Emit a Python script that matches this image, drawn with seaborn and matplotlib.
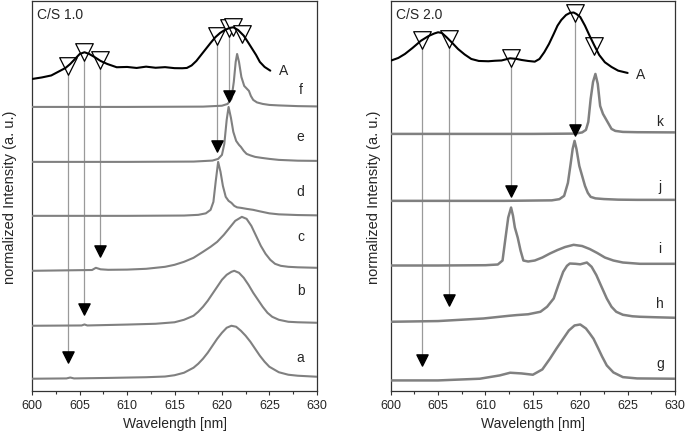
import numpy as np
import pandas as pd
import matplotlib
matplotlib.use("Agg")
import matplotlib.pyplot as plt
import seaborn as sns
from matplotlib.ticker import MultipleLocator

# ---------------- C/S 1.0 (left panel) ----------------
# intensities are in a.u. above each trace's own baseline
wl_A1 = [600.0, 601.0, 602.0, 602.9, 603.5, 604.0, 604.5, 605.0, 605.5, 606.0, 606.6, 607.2, 607.9, 608.9,
         610.0, 611.0, 612.0, 613.0, 614.0, 615.0, 615.8, 616.3, 616.8, 617.3, 617.8, 618.3, 618.8, 619.3,
         619.8, 620.3, 620.8, 621.2, 621.7, 622.3, 622.8, 623.2, 623.6, 624.0, 624.5, 625.1]
int_A1 = [0, 1.5, 3.5, 8, 11, 15, 20, 25, 26.7, 25, 21.7, 18, 15, 11.7,
          12, 11, 12.3, 11.2, 11.8, 10.8, 10.7, 11, 13.5, 18, 24, 30, 36, 41.7,
          46, 49, 51, 51.7, 49, 43.3, 36, 30, 24, 17, 12, 8.3]

wl_a = [600, 603.6, 604.0, 604.4, 608, 612, 614, 615, 616, 617, 617.5, 618, 618.5, 619, 619.5, 620, 620.5,
        621, 621.5, 622, 622.5, 623, 623.5, 624, 624.5, 625, 626, 627, 628, 630]
int_a = [0, 0.3, 1.2, 0.3, 0.8, 1.5, 2.2, 3.5, 6, 11, 15, 20, 26, 33, 40, 46, 51,
         53, 52, 48, 43, 37, 30, 23, 17, 12, 6.5, 4, 3, 2]

wl_b = [600, 605.2, 605.5, 605.8, 610, 613, 615, 616, 617, 617.5, 618, 618.5, 619, 619.5, 620, 620.5, 621,
        621.3, 621.8, 622.3, 622.8, 623.3, 623.8, 624.3, 624.8, 625.3, 626, 627, 628, 630]
int_b = [0, 0.3, 1.3, 0.3, 1.2, 2, 3.5, 6, 10, 14, 19, 25, 32, 39, 46, 51, 54,
         55, 53, 48, 41, 33, 26, 19, 13, 9, 6, 4, 3.5, 3]

wl_c = [600, 606.3, 606.7, 607.2, 608, 610, 612, 614, 615, 616, 617, 618, 618.8, 619.5, 620.2, 620.8,
        621.4, 622.1, 622.6, 623.1, 623.6, 624.1, 624.6, 625.1, 625.6, 626.2, 627, 628, 630]
int_c = [0, 0.8, 3, 1.5, 1, 1.2, 2, 4, 6, 9, 13, 19, 24, 29, 36, 43,
         50, 54, 52, 45, 35, 25, 17, 11, 7, 5, 4, 3.5, 3]

wl_d = [600, 610, 616, 617.5, 618.3, 618.8, 619.1, 619.35, 619.6, 619.85, 620.1, 620.4, 620.7, 621.0,
        621.3, 621.6, 622.0, 622.6, 623.3, 624, 625, 626, 628, 630]
int_d = [0, 0, 0.3, 1, 2.5, 6, 14, 35, 54, 44, 30, 19, 15, 13,
         10, 8.5, 8, 7, 6, 4.5, 2.5, 1.5, 0.8, 0.5]

wl_e = [600, 610, 617, 619, 619.6, 620.0, 620.25, 620.5, 620.7, 620.95, 621.2, 621.5, 621.8, 622.0,
        622.3, 622.6, 623.0, 623.5, 624.2, 625, 626, 628, 630]
int_e = [0, 0, 0.3, 1.3, 3, 7, 18, 42, 55, 44, 30, 21, 17, 15,
         11, 8, 6.5, 5, 4, 3, 2, 1.2, 1]

wl_f = [600, 610, 618, 620.0, 620.6, 621.0, 621.25, 621.45, 621.6, 621.8, 622.05, 622.35, 622.65, 622.85,
        623.05, 623.3, 623.7, 624.3, 625, 626, 628, 630]
int_f = [0, 0, 0.3, 1.2, 3, 8, 25, 45, 53, 45, 30, 21, 18, 16,
         11, 7, 4.5, 3, 2, 1.5, 0.8, 0.5]

# ---------------- C/S 2.0 (right panel) ----------------
wl_A2 = [600, 600.8, 601.5, 602.3, 603.2, 604.0, 604.6, 605.0, 605.4, 605.9, 606.5, 607.1, 607.8, 608.5,
         609.3, 610.3, 611.0, 611.7, 612.6, 613.3, 613.8, 614.5, 615.2, 615.7, 616.2, 616.7, 617.2, 617.6,
         618.0, 618.5, 618.9, 619.3, 619.6, 620.0, 620.5, 621.0, 621.5, 622.0, 622.6, 623.3, 624.0, 625.0]
int_A2 = [0.3, 3, 7, 13, 20.3, 25, 27.5, 28.7, 28, 23.7, 18, 12, 6.5, 2,
          0, -0.3, 0.2, 0.5, 2.7, 2, 1, 0, -0.7, 2, 8.7, 17, 27, 35.3,
          41, 46, 48, 48.5, 47, 44, 35.3, 25, 15.3, 6, -1.3, -6, -9.7, -12]

wl_g = [600, 605, 609.4, 611.5, 612.6, 613.8, 615.0, 616.0, 616.8, 617.5, 618.2, 618.8, 619.4, 620.0,
        620.6, 621.0, 621.4, 621.9, 622.3, 622.8, 623.5, 624.5, 626, 630]
int_g = [0, 0, 1.7, 5, 7.7, 7, 5.7, 11, 21.7, 32, 41.7, 50, 55, 56,
         52, 47, 41.7, 32, 24, 15, 8, 3.3, 2, 1.7]

wl_h = [600, 605, 609.8, 612.5, 613.3, 614.5, 615.8, 616.5, 617.2, 617.7, 618.2, 618.6, 618.9, 619.5,
        620.0, 620.7, 621.2, 621.7, 622.2, 622.8, 623.3, 623.8, 624.5, 625.5, 626.3, 628, 630]
int_h = [0, 0.7, 3.3, 6, 6.7, 7.5, 10, 15, 23.3, 37, 50, 56, 58.3, 58,
         57.5, 59.3, 55, 46.7, 36, 23.3, 15, 10, 7, 5.5, 5, 4.5, 4]

wl_i = [600, 605, 610, 611.3, 611.8, 612.1, 612.4, 612.7, 612.9, 613.1, 613.4, 613.7, 614.0, 614.5,
        615.2, 616.0, 616.8, 617.6, 618.4, 619.3, 620.2, 621.0, 621.8, 622.6, 623.5, 624.5, 626.3, 630]
int_i = [0, 0, 0.3, 1, 5, 26.7, 48, 58, 50, 38, 28, 15, 5, 4,
         5, 8, 12, 15.5, 18.5, 20.7, 19.5, 16.5, 12.5, 8, 5, 3, 1.7, 1.7]

wl_j = [600, 612, 617.0, 617.8, 618.3, 618.7, 619.0, 619.2, 619.4, 619.6, 619.9, 620.2, 620.5, 620.8,
        621.1, 621.6, 622.5, 624, 626, 630]
int_j = [0, 0, 0.5, 1.7, 5, 18, 38, 52, 60, 52, 35, 25, 15, 8,
         4, 2.5, 1.8, 1.2, 1, 1]

wl_k = [600, 615, 619.5, 620.2, 620.6, 620.85, 621.1, 621.35, 621.6, 621.85, 622.1, 622.4, 622.7, 623.0,
        623.3, 623.7, 624.5, 626, 630]
int_k = [0, 0, 0.3, 1.5, 4, 12, 35, 52, 60, 50, 28, 20, 15, 10,
         5, 3, 2, 1.7, 1.5]

# peak positions marked on curve A, and which trace each arrow points to
peaks_1 = [603.8, 605.5, 607.1, 619.5, 620.7, 621.2, 622.1]
arrow_to_1 = ["a", "b", "c", "e", "f"]
arrow_gap_1 = [22, 17, 20, 16, 11]

peaks_2 = [603.3, 606.1, 612.7, 619.4, 621.5]
arrow_to_2 = ["g", "h", "j", "k"]
arrow_gap_2 = [20, 22, 10, 4.3]

# vertical stacking offsets of each trace
offsets_1 = {"a": 12, "b": 65, "c": 120, "d": 175, "e": 229, "f": 284, "A": 312}
offsets_2 = {"g": 10.3, "h": 69, "i": 125.3, "j": 190, "k": 257, "A": 330}

labels_1 = {"a": (628.3, 33.7), "b": (628.3, 100.3), "c": (628.3, 155.3), "d": (628.3, 200.3),
            "e": (628.3, 255.3), "f": (628.3, 302), "A": (626.5, 321)}
labels_2 = {"g": (628.4, 28), "h": (628.4, 88), "i": (628.4, 142.7), "j": (628.4, 205.3),
            "k": (628.4, 270.3), "A": (626.4, 317)}

spectra_1 = {"a": (wl_a, int_a), "b": (wl_b, int_b), "c": (wl_c, int_c), "d": (wl_d, int_d),
             "e": (wl_e, int_e), "f": (wl_f, int_f)}
spectra_2 = {"g": (wl_g, int_g), "h": (wl_h, int_h), "i": (wl_i, int_i), "j": (wl_j, int_j),
             "k": (wl_k, int_k)}

sns.set_style("ticks")
plt.rcParams["font.family"] = ["Liberation Sans", "DejaVu Sans"]

GRAY = "#808080"
ARROW = "#9a9a9a"

fig = plt.figure(figsize=(6.85, 4.35), dpi=100)
ax1 = fig.add_axes([0.0472, 0.0995, 0.4152, 0.8959])
ax2 = fig.add_axes([0.5704, 0.0995, 0.4150, 0.8959])


def draw_panel(ax, spectra, wl_A, int_A, offsets, peaks, arrow_to, arrow_gap, labels, title, lw, ylab_x):
    for name, (wl, inten) in spectra.items():
        df = pd.DataFrame({"wl": wl, "y": np.asarray(inten) + offsets[name]})
        sns.lineplot(data=df, x="wl", y="y", ax=ax, color=GRAY, lw=lw, zorder=3)

    dfA = pd.DataFrame({"wl": wl_A, "y": np.asarray(int_A) + offsets["A"]})
    sns.lineplot(data=dfA, x="wl", y="y", ax=ax, color="black", lw=1.5, zorder=5)

    # open markers sit on curve A
    peak_y = np.interp(peaks, wl_A, np.asarray(int_A) + offsets["A"])
    ax.scatter(peaks, peak_y, marker="v", s=160, facecolor="white", edgecolor="black",
               linewidths=0.9, zorder=4)

    # arrows down to the traces
    for px, py, tgt, gap in zip(peaks, peak_y, arrow_to, arrow_gap):
        end_y = offsets[tgt] + gap
        ax.plot([px, px], [py, end_y], color=ARROW, lw=0.9, zorder=2)
        ax.scatter([px], [end_y], marker="v", s=65, color="black", zorder=6)

    for name, (lx, ly) in labels.items():
        ax.text(lx, ly, name, ha="center", va="center", fontsize=10)

    ax.text(0.017, 0.985, title, transform=ax.transAxes, ha="left", va="top", fontsize=10)

    ax.set_xlim(600, 630)
    ax.set_ylim(0, 390)
    ax.xaxis.set_major_locator(MultipleLocator(5))
    ax.xaxis.set_minor_locator(MultipleLocator(2.5))
    ax.tick_params(axis="x", which="major", direction="out", length=3.2, width=0.8,
                   labelsize=9, pad=2.5, color="#333333")
    ax.tick_params(axis="x", which="minor", direction="out", length=1.8, width=0.8, color="#333333")
    ax.set_yticks([])
    ax.set_xlabel("Wavelength [nm]", fontsize=10, labelpad=4)
    ax.set_ylabel("normalized Intensity (a. u.)", fontsize=10.5)
    ax.yaxis.set_label_coords(ylab_x, 0.5)
    for sp in ax.spines.values():
        sp.set_visible(True)
        sp.set_color("#333333")
        sp.set_linewidth(0.9)


draw_panel(ax1, spectra_1, wl_A1, int_A1, offsets_1, peaks_1, arrow_to_1, arrow_gap_1,
           labels_1, "C/S 1.0", 1.5, -0.053)
draw_panel(ax2, spectra_2, wl_A2, int_A2, offsets_2, peaks_2, arrow_to_2, arrow_gap_2,
           labels_2, "C/S 2.0", 1.8, -0.033)

fig.savefig("out.png", dpi=100)
